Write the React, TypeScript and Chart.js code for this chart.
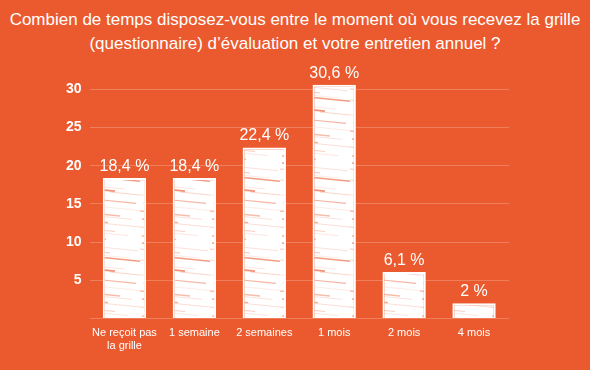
import { useEffect, useRef } from 'react';
import { Chart, registerables } from 'chart.js';

Chart.register(...registerables);

const titleLines = [
  'Combien de temps disposez-vous entre le moment où vous recevez la grille',
  '(questionnaire) d’évaluation et votre entretien annuel ?',
];
const categories = [['Ne reçoit pas', 'la grille'], '1 semaine', '2 semaines', '1 mois', '2 mois', '4 mois'];
const values = [18.4, 18.4, 22.4, 30.6, 6.1, 2];
const valueLabels = ['18,4 %', '18,4 %', '22,4 %', '30,6 %', '6,1 %', '2 %'];
const yTicks = [0, 5, 10, 15, 20, 25, 30];

const BG = '#EB5A2E';

// decorative streaks of the bar texture: [y, x1, x2, alpha, lineWidth]
const STREAKS = [
  [3, 2, 30, 0.55, 1.5], [6, 20, 68, 0.18, 1], [9, 0, 40, 0.35, 1.1], [13, 10, 60, 0.12, 1],
  [17, 28, 70, 0.6, 1.5], [20, 0, 22, 0.25, 1], [24, 5, 55, 0.15, 1], [28, 14, 45, 0.65, 1.8],
  [32, 40, 70, 0.25, 1], [35, 0, 35, 0.15, 1], [39, 22, 66, 0.45, 1.2], [43, 3, 28, 0.2, 1],
  [47, 35, 70, 0.12, 1], [51, 0, 50, 0.4, 1.3], [55, 18, 62, 0.18, 1], [59, 2, 38, 0.5, 1.4],
  [63, 30, 70, 0.2, 1], [67, 0, 45, 0.3, 1], [71, 12, 58, 0.15, 1], [76, 2, 36, 0.45, 1.3],
];

function makePattern(): CanvasPattern | string {
  const c = document.createElement('canvas');
  c.width = 70;
  c.height = 80;
  const g = c.getContext('2d');
  if (!g) return '#fff';
  g.fillStyle = '#ffffff';
  g.fillRect(0, 0, 70, 80);
  STREAKS.forEach(([y, x1, x2, a, w]) => {
    g.strokeStyle = `rgba(235,90,46,${a})`;
    g.lineWidth = w;
    g.beginPath();
    g.moveTo(x1, y);
    g.lineTo(x2, y + (x2 - x1) * 0.1);
    g.stroke();
  });
  const p = g.createPattern(c, 'repeat');
  return p || '#fff';
}

const labelPlugin = {
  id: 'valueLabels',
  afterDatasetsDraw(chart: any) {
    const { ctx } = chart;
    const meta = chart.getDatasetMeta(0);
    ctx.save();
    ctx.fillStyle = '#ffffff';
    ctx.font = '16px "Liberation Sans", Arial, sans-serif';
    ctx.textAlign = 'center';
    ctx.textBaseline = 'alphabetic';
    meta.data.forEach((bar: any, i: number) => {
      ctx.fillText(valueLabels[i], bar.x, bar.y - 7);
    });
    ctx.restore();
  },
};

export default function App() {
  const ref = useRef<HTMLCanvasElement | null>(null);

  useEffect(() => {
    if (!ref.current) return;
    const chart = new Chart(ref.current, {
      type: 'bar',
      data: {
        labels: categories as any,
        datasets: [
          {
            data: values,
            backgroundColor: makePattern() as any,
            borderColor: '#ffffff',
            borderWidth: 2,
            categoryPercentage: 1,
            barPercentage: 0.62,
          },
        ],
      },
      options: {
        responsive: false,
        animation: false,
        layout: { padding: { top: 74, left: 0, right: 81, bottom: 17 } },
        plugins: {
          legend: { display: false },
          title: { display: false },
          tooltip: { enabled: false },
        },
        scales: {
          x: {
            grid: { display: false },
            border: { display: false },
            ticks: {
              color: '#ffffff',
              font: { family: '"Liberation Sans", Arial, sans-serif', size: 11 },
              padding: 0,
              maxRotation: 0,
              autoSkip: false,
            },
          },
          y: {
            min: 0,
            max: 32,
            afterBuildTicks: (axis: any) => {
              axis.ticks = yTicks.map((v) => ({ value: v }));
            },
            afterFit: (axis: any) => {
              axis.width = 89.5;
            },
            grid: { color: 'rgba(255,255,255,0.22)', lineWidth: 1, drawTicks: false },
            border: { display: false },
            ticks: {
              color: '#ffffff',
              padding: 8,
              font: { family: '"Liberation Sans", Arial, sans-serif', size: 14, weight: 'bold' },
              callback: (v: any) => (v === 0 ? '' : String(v)),
            },
          },
        },
      },
      plugins: [labelPlugin],
    });
    return () => chart.destroy();
  }, []);

  return (
    <div
      style={{
        position: 'fixed',
        left: 0,
        top: 0,
        width: 590,
        height: 370,
        background: BG,
        overflow: 'hidden',
      }}
    >
      <div
        style={{
          position: 'absolute',
          left: 0,
          top: 8,
          width: 590,
          textAlign: 'center',
          color: '#ffffff',
          font: '17px "Liberation Sans", Arial, sans-serif',
          lineHeight: '24px',
        }}
      >
        {titleLines.map((t, i) => (
          <div key={i}>{t}</div>
        ))}
      </div>
      <canvas ref={ref} width={590} height={370} style={{ position: 'absolute', left: 0, top: 0, display: 'block' }} />
    </div>
  );
}
